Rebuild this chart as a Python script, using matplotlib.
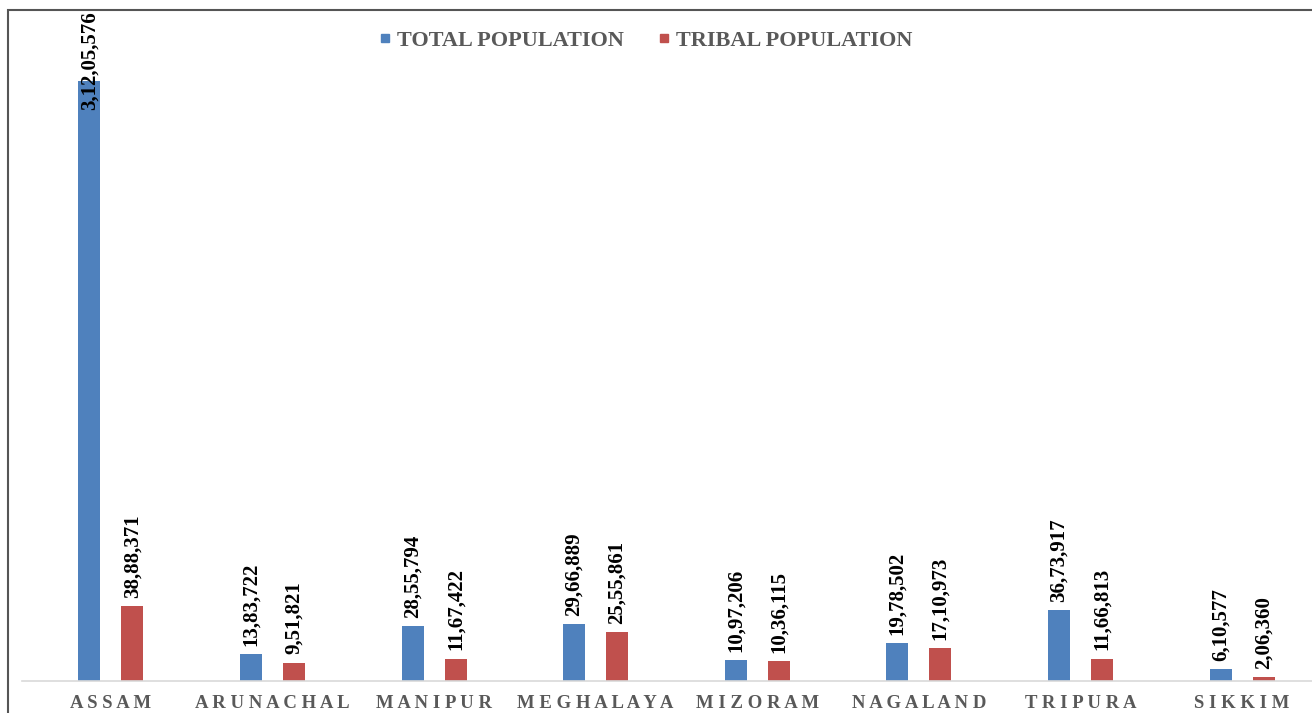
import matplotlib
matplotlib.use("Agg")
import matplotlib.pyplot as plt
from matplotlib.lines import Line2D
from matplotlib.patches import Rectangle
import numpy as np

states = ["ASSAM", "ARUNACHAL", "MANIPUR", "MEGHALAYA", "MIZORAM", "NAGALAND", "TRIPURA", "SIKKIM"]
total_pop = [31205576, 1383722, 2855794, 2966889, 1097206, 1978502, 3673917, 610577]
tribal_pop = [3888371, 951821, 1167422, 2555861, 1036115, 1710973, 1166813, 206360]
series_names = ["TOTAL POPULATION", "TRIBAL POPULATION"]

BLUE = "#4F81BD"
RED = "#C0504D"
GRAY = "#595959"
SERIF = ["Liberation Serif", "DejaVu Serif"]

def indian_format(n):
    s = str(n)
    if len(s) <= 3:
        return s
    last3 = s[-3:]
    rest = s[:-3]
    parts = []
    while len(rest) > 2:
        parts.insert(0, rest[-2:])
        rest = rest[:-2]
    if rest:
        parts.insert(0, rest)
    return ",".join(parts) + "," + last3

W, H = 1312, 713
fig = plt.figure(figsize=(W / 100, H / 100), dpi=100)

unit = 161.6
left_px = 22
xmin = -0.55
xmax = 7.6
base_px = 681
top_px = 10
ax = fig.add_axes([left_px / W, (H - base_px) / H, (xmax - xmin) * unit / W, (base_px - top_px) / H])

x = np.arange(len(states))
bw = 0.136
off = 0.133
b1 = ax.bar(x - off, total_pop, bw, color=BLUE, zorder=2)
b2 = ax.bar(x + off, tribal_pop, bw, color=RED, zorder=2)

px_per_unit_y = 600 / 31205576
ymax = (base_px - top_px) / px_per_unit_y
ax.set_xlim(xmin, xmax)
ax.set_ylim(0, ymax)

for bars, vals in ((b1, total_pop), (b2, tribal_pop)):
    for rect, v in zip(bars, vals):
        cx = rect.get_x() + rect.get_width() / 2
        if v > 0.8 * ymax:
            ax.text(cx, ymax - 1 / px_per_unit_y, indian_format(v), rotation=90,
                    ha="center", va="top", fontsize=15, fontweight="bold",
                    family=SERIF, color="black", zorder=3)
        else:
            ax.annotate(indian_format(v), (cx, v), xytext=(0, 6), textcoords="offset points",
                        rotation=90, ha="center", va="bottom", fontsize=15,
                        fontweight="bold", family=SERIF, color="black", zorder=3)

for s in ["top", "right", "left"]:
    ax.spines[s].set_visible(False)
ax.spines["bottom"].set_color("#D9D9D9")
ax.spines["bottom"].set_linewidth(1.2)
ax.set_yticks([])
ax.set_xticks(x)
ax.set_xticklabels([" ".join(s) for s in states], family=SERIF, fontsize=13.5,
                   fontweight="bold", color=GRAY)
ax.tick_params(axis="x", length=0, pad=10)

handles = [Line2D([], [], marker="s", linestyle="none", markersize=6, color=BLUE),
           Line2D([], [], marker="s", linestyle="none", markersize=6, color=RED)]
fig.legend(handles, series_names, loc="center", bbox_to_anchor=(646 / W, 1 - 41 / H),
           ncol=2, frameon=False, prop={"family": SERIF, "size": 16, "weight": "bold"},
           labelcolor=GRAY, handlelength=0.45, handletextpad=0.3, columnspacing=1.6)

fig.patches.append(Rectangle((8 / W, -0.1), 1.2, 1 - 10 / H + 0.1, transform=fig.transFigure,
                             fill=False, edgecolor="#555555", linewidth=1.5))

fig.savefig("out.png", dpi=100, facecolor="white")
